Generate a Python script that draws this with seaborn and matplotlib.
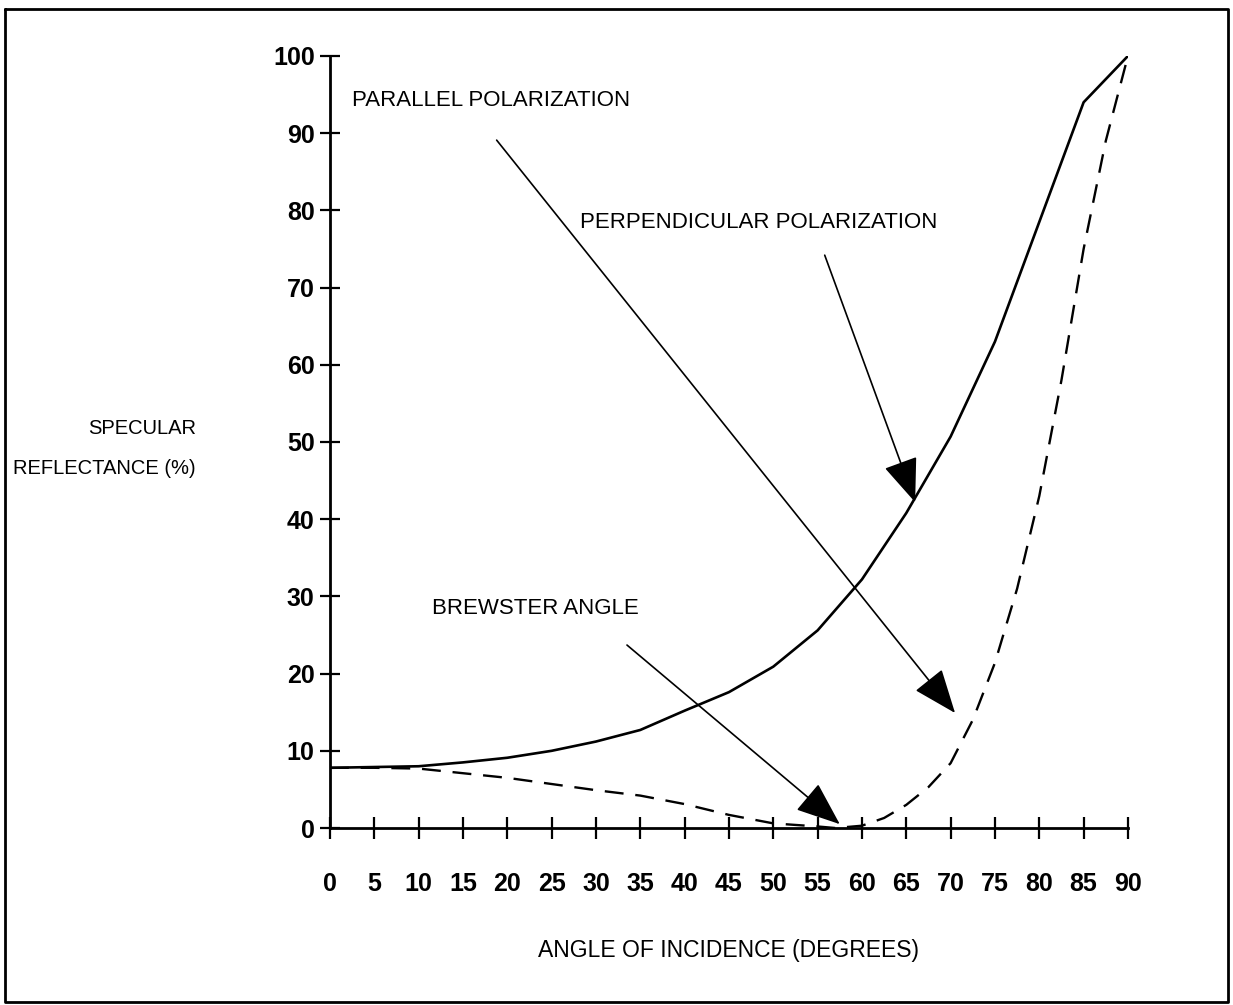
"""Specular reflectance vs angle of incidence, parallel and perpendicular polarization."""

import matplotlib

matplotlib.use("Agg")
import matplotlib.pyplot as plt
import pandas as pd
import seaborn as sns
from matplotlib.lines import Line2D

# perpendicular polarization (solid curve)
perp_angle = [0, 5, 10, 15, 20, 25, 30, 35, 40, 45, 50, 55, 60, 65, 70, 75, 80, 85, 90]
perp_refl = [7.8, 7.9, 8.0, 8.5, 9.1, 10.0, 11.2, 12.7, 15.2, 17.6, 20.9, 25.6,
             32.2, 40.8, 50.7, 63.0, 78.5, 94.0, 100.0]

# parallel polarization (dashed curve)
par_angle = [0, 5, 10, 15, 20, 25, 30, 35, 40, 45, 50, 55, 57, 60, 62.5, 65, 67.5, 70,
             72.5, 75, 77.5, 80, 82.5, 85, 87.5, 90]
par_refl = [7.8, 7.8, 7.7, 7.1, 6.5, 5.7, 4.9, 4.2, 3.1, 1.7, 0.6, 0.2, 0.0, 0.3, 1.3,
            3.0, 5.3, 8.4, 14.0, 21.4, 31.0, 43.0, 58.0, 75.0, 89.0, 100.0]

x_ticks = list(range(0, 91, 5))
y_ticks = list(range(0, 101, 10))

sns.set_style("white")
plt.rcParams["font.family"] = ["Liberation Sans", "DejaVu Sans"]
plt.rcParams["text.color"] = "black"

fig = plt.figure(figsize=(12.33, 10.05), dpi=100)
ax = fig.add_axes([0.2676, 0.1761, 0.6472, 0.7682])

perp_df = pd.DataFrame({"angle": perp_angle, "refl": perp_refl})
par_df = pd.DataFrame({"angle": par_angle, "refl": par_refl})
sns.lineplot(data=perp_df, x="angle", y="refl", ax=ax, color="black", lw=1.9, sort=False)
sns.lineplot(data=par_df, x="angle", y="refl", ax=ax, color="black", lw=1.7,
             sort=False, dashes=False)
ax.lines[-1].set_dashes((8, 5))

ax.set_xlim(0, 90)
ax.set_ylim(0, 100)
ax.set_xticks(x_ticks)
ax.set_yticks(y_ticks)
ax.set_xlabel("")
ax.set_ylabel("")

for side in ["top", "right"]:
    ax.spines[side].set_visible(False)
for side in ["left", "bottom"]:
    ax.spines[side].set_color("black")
    ax.spines[side].set_linewidth(2)

ax.tick_params(axis="x", bottom=True, direction="inout", length=16, width=1.6, pad=24,
               colors="black", labelsize=18)
ax.tick_params(axis="y", left=True, direction="inout", length=14, width=1.6, pad=4,
               colors="black", labelsize=18)
for lab in ax.get_xticklabels() + ax.get_yticklabels():
    lab.set_fontweight("bold")

# annotations
arrow = dict(arrowstyle="-|>,head_length=1.4,head_width=0.55", mutation_scale=20,
             color="black", lw=1.2, shrinkA=0, shrinkB=0)
ax.text(2.5, 94.2, "PARALLEL POLARIZATION", fontsize=16, va="center", ha="left")
ax.annotate("", xy=(70.5, 14.9), xytext=(18.8, 89.1), arrowprops=arrow)
ax.text(28.2, 78.4, "PERPENDICULAR POLARIZATION", fontsize=16, va="center", ha="left")
ax.annotate("", xy=(66.0, 42.2), xytext=(55.8, 74.2), arrowprops=arrow)
ax.text(11.5, 28.4, "BREWSTER ANGLE", fontsize=16, va="center", ha="left")
ax.annotate("", xy=(57.5, 0.5), xytext=(33.5, 23.7), arrowprops=arrow)

fig.text(196 / 1233, 1 - 448 / 1005, "SPECULAR\nREFLECTANCE (%)", fontsize=14.5,
         ha="right", va="center", multialignment="right", linespacing=2.4)
fig.text(728 / 1233, 1 - 950 / 1005, "ANGLE OF INCIDENCE (DEGREES)", fontsize=16.5,
         ha="center", va="center")

# frame around the whole figure
x0, x1 = 5 / 1233, 1228 / 1233
y0, y1 = 1 - 1002 / 1005, 1 - 9 / 1005
fig.add_artist(Line2D([x0, x1, x1, x0, x0], [y1, y1, y0, y0, y1], color="black",
                      lw=2, transform=fig.transFigure))

fig.savefig("out.png", dpi=100, facecolor="white")
